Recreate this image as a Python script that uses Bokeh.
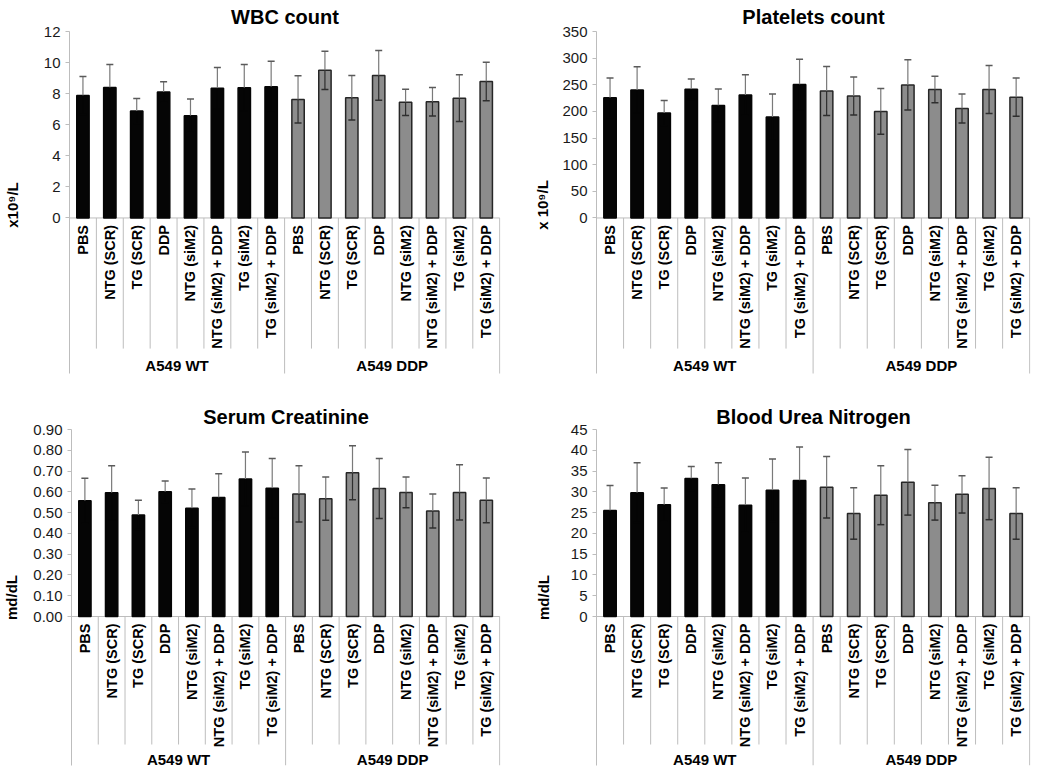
import math
from bokeh.plotting import figure
from bokeh.layouts import column, row
from bokeh.models import ColumnDataSource, FixedTicker, Range1d, NumeralTickFormatter
from bokeh.embed import file_html
from bokeh.resources import INLINE
from bokeh.core.properties import value

# ---------------- data ----------------
treatments = ["PBS", "NTG (SCR)", "TG (SCR)", "DDP", "NTG (siM2)",
              "NTG (siM2) + DDP", "TG (siM2)", "TG (siM2) + DDP"]
cell_lines = ["A549 WT", "A549 DDP"]

wbc_mean = [7.88, 8.40, 6.88, 8.10, 6.58, 8.35, 8.38, 8.44,
            7.63, 9.50, 7.74, 9.17, 7.44, 7.48, 7.71, 8.78]
wbc_err = [1.22, 1.47, 0.81, 0.66, 1.07, 1.33, 1.49, 1.64,
           1.52, 1.23, 1.43, 1.60, 0.85, 0.92, 1.50, 1.24]

plt_mean = [225.5, 240.4, 196.9, 241.6, 211.2, 231.0, 189.4, 250.3,
            238.5, 229.0, 200.0, 249.7, 241.0, 205.6, 241.0, 226.7]
plt_err = [37.2, 43.5, 23.6, 19.3, 31.0, 38.0, 43.5, 47.7,
           46.0, 35.6, 42.9, 47.2, 24.8, 27.3, 45.0, 36.0]

crea_mean = [0.557, 0.595, 0.489, 0.600, 0.521, 0.573, 0.662, 0.617,
             0.590, 0.567, 0.692, 0.616, 0.597, 0.508, 0.597, 0.559]
crea_err = [0.108, 0.130, 0.070, 0.052, 0.093, 0.114, 0.130, 0.143,
            0.135, 0.104, 0.130, 0.144, 0.074, 0.082, 0.133, 0.108]

bun_mean = [25.5, 29.8, 26.9, 33.2, 31.7, 26.8, 30.4, 32.7,
            31.1, 24.8, 29.2, 32.3, 27.4, 29.4, 30.8, 24.8]
bun_err = [6.0, 7.2, 4.0, 2.9, 5.3, 6.5, 7.5, 8.1,
           7.4, 6.2, 7.1, 7.9, 4.2, 4.5, 7.5, 6.2]

FONT = value("Liberation Sans")
GRID = "#bdbdbd"


def make_panel(title, ylabel, mean, err, ymax, step, fmt,
               width, height, left, right, top, bottom, plot_px,
               title_standoff, label_standoff, leaf_px, group_px, group_label_px):
    n_per = len(treatments)
    n = n_per * len(cell_lines)
    frame_h = height - top - bottom
    units_per_px = ymax / plot_px
    ymin = -(frame_h - plot_px) * units_per_px

    p = figure(width=width, height=height, output_backend="svg",
               toolbar_location=None, x_range=Range1d(0, n + 0.03),
               y_range=Range1d(ymin, ymax),
               min_border_left=left, min_border_right=right,
               min_border_top=top, min_border_bottom=bottom)
    p.outline_line_color = None
    p.grid.visible = False
    p.xaxis.visible = False

    p.title.text = title
    p.title.align = "center"
    p.title.text_font = "Liberation Sans"
    p.title.text_font_size = "20px"
    p.title.text_font_style = "bold"
    p.title.text_color = "#000000"
    p.title.standoff = title_standoff

    ticks = []
    t = 0.0
    while t <= ymax + 1e-9:
        ticks.append(round(t, 6))
        t += step
    ax = p.yaxis[0]
    ax.ticker = FixedTicker(ticks=ticks)
    ax.formatter = NumeralTickFormatter(format=fmt)
    ax.bounds = (-group_px * units_per_px, ymax)
    ax.axis_line_color = GRID
    ax.major_tick_line_color = GRID
    ax.major_tick_out = 4
    ax.major_tick_in = 0
    ax.minor_tick_line_color = None
    ax.major_label_standoff = 5
    ax.major_label_text_font = "Liberation Sans"
    ax.major_label_text_font_size = "15px"
    ax.major_label_text_color = "#1a1a1a"
    ax.axis_label = ylabel
    ax.axis_label_text_font = "Liberation Sans"
    ax.axis_label_text_font_size = "15px"
    ax.axis_label_text_font_style = "bold"
    ax.axis_label_text_color = "#000000"
    ax.axis_label_standoff = label_standoff

    xs = [i + 0.5 for i in range(n)]
    fills = ["#050505"] * n_per + ["#8c8c8c"] * n_per
    lines = ["#050505"] * n_per + ["#262626"] * n_per
    low_col = ["#050505"] * n_per + ["#2e2e2e"] * n_per
    src = ColumnDataSource(dict(x=xs, top=mean, fill=fills, line=lines, low=low_col,
                                hi=[m + e for m, e in zip(mean, err)],
                                lo=[m - e for m, e in zip(mean, err)]))

    # x-axis baseline and separators
    p.segment(x0=[0], y0=[0], x1=[n], y1=[0], line_color=GRID, line_width=1)
    leaf_x = [i for i in range(1, n + 1) if i % n_per != 0]
    p.segment(x0=leaf_x, y0=[0] * len(leaf_x), x1=leaf_x,
              y1=[-leaf_px * units_per_px] * len(leaf_x),
              line_color=GRID, line_width=1)
    grp_x = [g * n_per for g in range(1, len(cell_lines) + 1)]
    p.segment(x0=grp_x, y0=[0] * len(grp_x), x1=grp_x,
              y1=[-group_px * units_per_px] * len(grp_x),
              line_color=GRID, line_width=1)

    p.vbar(x="x", top="top", bottom=0, width=0.46, source=src,
           fill_color="fill", line_color="line", line_width=1.5)

    # error bars: upper part grey, lower part dark (hidden inside black bars)
    p.segment(x0="x", y0="top", x1="x", y1="hi", source=src,
              line_color="#7a7a7a", line_width=1.2)
    p.segment(x0="x", y0="lo", x1="x", y1="top", source=src,
              line_color="low", line_width=1.2)
    p.scatter(x="x", y="hi", source=src, marker="dash", size=7,
              line_color="#5a5a5a", line_width=1.5)
    p.scatter(x="x", y="lo", source=src, marker="dash", size=7,
              line_color="low", line_width=1.5)

    # category labels
    labels = treatments * len(cell_lines)
    p.text(x=xs, y=[0] * n, text=labels, angle=math.pi / 2,
           text_align="right", text_baseline="middle", y_offset=7,
           text_font=FONT, text_font_style="bold", text_font_size="14.5px",
           text_color="#000000")
    gx = [g * n_per + n_per / 2 for g in range(len(cell_lines))]
    p.text(x=gx, y=[0] * len(gx), text=cell_lines, text_align="center",
           text_baseline="middle", y_offset=group_label_px,
           text_font=FONT, text_font_style="bold", text_font_size="15px",
           text_color="#000000")
    return p


p1 = make_panel("WBC count", "x10\u2079/L", wbc_mean, wbc_err, 12, 2, "0",
                517, 383, 63, 17, 30, 5, 187, 7, 20, 131, 156, 148)
p2 = make_panel("Platelets count", "x 10\u2079/L", plt_mean, plt_err, 350, 50, "0",
                517, 383, 79, 4, 30, 5, 187, 7, 8, 131, 156, 148)
p3 = make_panel("Serum Creatinine", "md/dL", crea_mean, crea_err, 0.9, 0.1, "0.00",
                517, 384, 60, 17, 46, 2, 187, 3, 10, 128, 149, 143)
p4 = make_panel("Blood Urea Nitrogen", "md/dL", bun_mean, bun_err, 45, 5, "0",
                517, 384, 79, 4, 46, 2, 187, 3, 16, 128, 149, 143)

layout = column(row(p1, p2, spacing=0), row(p3, p4, spacing=0), spacing=0)
open("out.html", "w").write(file_html(layout, INLINE))
